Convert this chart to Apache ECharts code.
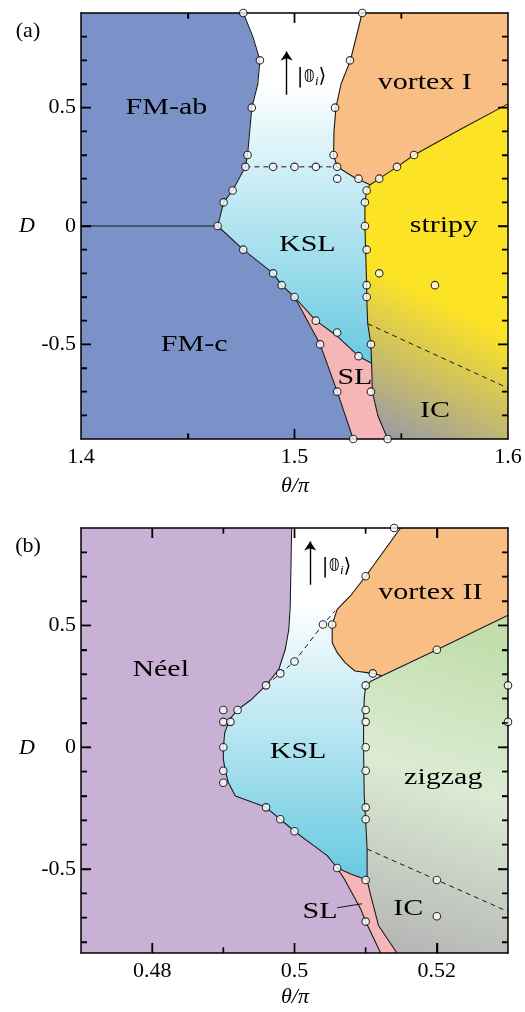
<!DOCTYPE html>
<html>
<head>
<meta charset="utf-8">
<script src="https://cdn.jsdelivr.net/npm/echarts@6/dist/echarts.min.js"></script>
<style>
html, body { margin: 0; padding: 0; background: #fff; }
#chart { width: 525px; height: 1012px; }
</style>
</head>
<body>
<div id="chart"></div>
<script>
// ---------- panel (a): boundaries, [theta/pi, D] ----------
var aFmEdge = [[1.476,0.9],[1.4805,0.8],[1.4838,0.7],[1.4828,0.6],[1.480,0.5],[1.479,0.4],[1.478,0.3],[1.477,0.25],[1.471,0.15],[1.4668,0.1],[1.464,0]];
var aFmSplit = [[1.4,0],[1.464,0]];
var aFmcKsl = [[1.464,0],[1.476,-0.1],[1.49,-0.2],[1.494,-0.25],[1.5,-0.3]];
var aFmcSl = [[1.5,-0.3],[1.512,-0.5],[1.52,-0.7],[1.5275,-0.9]];
var aKslSl = [[1.5,-0.3],[1.51,-0.4],[1.52,-0.465],[1.53,-0.55],[1.5361,-0.58]];
var aKslStripy = [[1.5354,0.174],[1.5338,0.15],[1.533,0.1],[1.533,0],[1.5333,-0.1],[1.5338,-0.25],[1.5338,-0.3],[1.5343,-0.413],[1.5358,-0.5],[1.5361,-0.58]];
var aSlIc = [[1.5361,-0.58],[1.5365,-0.7],[1.539,-0.8],[1.5436,-0.9]];
var aVortexEdge = [[1.5317,0.9],[1.5262,0.7],[1.5218,0.6],[1.5194,0.5],[1.5185,0.4],[1.5183,0.3],[1.52,0.25],[1.528,0.205],[1.5354,0.174]];
var aVortexStripy = [[1.5354,0.174],[1.5397,0.2],[1.548,0.25],[1.556,0.3],[1.578,0.41],[1.6,0.516]];
var aDashKsl = [[1.477,0.25],[1.52,0.25]];
var aDashIc = [[1.5343,-0.413],[1.6,-0.685]];

var aPoints = [[1.476,0.9],[1.5317,0.9],[1.4838,0.7],[1.526,0.7],[1.48,0.5],[1.519,0.5],[1.478,0.3],[1.5183,0.3],
  [1.477,0.25],[1.49,0.25],[1.5,0.25],[1.51,0.25],[1.52,0.25],
  [1.52,0.2],[1.53,0.2],[1.5397,0.2],[1.548,0.25],[1.556,0.3],
  [1.471,0.15],[1.4668,0.1],[1.464,0],
  [1.5338,0.15],[1.533,0.1],[1.533,0],[1.5338,-0.1],[1.5397,-0.2],[1.5338,-0.25],[1.5338,-0.3],[1.5658,-0.25],
  [1.476,-0.1],[1.49,-0.2],[1.494,-0.25],[1.5,-0.3],[1.51,-0.4],[1.52,-0.45],[1.512,-0.5],[1.53,-0.55],
  [1.5358,-0.5],[1.52,-0.7],[1.5358,-0.7],[1.5275,-0.9],[1.5436,-0.9]];

var aLabels = [
  {name: 'FM-ab', value: [1.44, 0.5]},
  {name: 'FM-c', value: [1.453, -0.5]},
  {name: 'vortex I', value: [1.561, 0.606]},
  {name: 'stripy', value: [1.57, 0]},
  {name: 'KSL', value: [1.506, -0.08]},
  {name: 'SL', value: [1.5283, -0.64]},
  {name: 'IC', value: [1.5658, -0.78]}
];
var aArrow = [[1.4963,0.555],[1.4963,0.737]];
var aKet = [1.508, 0.63];

var aXMajor = [1.5];
var aXMinor = [1.45, 1.55];
var aYMajor = [-0.5, 0, 0.5];
var aYMinor = [-0.8, -0.7, -0.6, -0.4, -0.3, -0.2, -0.1, 0.1, 0.2, 0.3, 0.4, 0.6, 0.7, 0.8];

// ---------- panel (b) ----------
var bNeelEdge = [[0.4996,0.9],[0.4994,0.579],[0.4992,0.484],[0.4987,0.402],[0.4978,0.32],[0.496,0.254],[0.494,0.197],[0.4921,0.156],[0.4909,0.115],[0.4902,0.06],[0.49,0],[0.49,-0.05],[0.4903,-0.1],[0.4907,-0.145],[0.4917,-0.2],[0.496,-0.247],[0.498,-0.296],[0.5,-0.345],[0.5027,-0.404],[0.5046,-0.445],[0.506,-0.496]];
var bNeelSl = [[0.506,-0.496],[0.507,-0.541],[0.5093,-0.664],[0.51,-0.716],[0.5121,-0.845]];
var bKslSl = [[0.506,-0.496],[0.508,-0.522],[0.5102,-0.545]];
var bSlIc = [[0.5102,-0.545],[0.5106,-0.596],[0.5118,-0.732],[0.5144,-0.845]];
var bKslZig = [[0.5123,0.293],[0.5108,0.272],[0.51,0.25],[0.5098,0.2],[0.5097,0.1],[0.5097,0],[0.5098,-0.2],[0.51,-0.3],[0.5102,-0.418],[0.5102,-0.545]];
var bVortexEdge = [[0.5149,0.9],[0.51,0.702],[0.5079,0.623],[0.506,0.566],[0.5053,0.504],[0.5053,0.429],[0.506,0.388],[0.5071,0.347],[0.5085,0.313],[0.511,0.303],[0.5123,0.293]];
var bVortexZig = [[0.5123,0.293],[0.52,0.4],[0.53,0.542]];
var bDashKsl = [[0.496,0.254],[0.498,0.303],[0.5,0.352],[0.504,0.504],[0.5057,0.56]];
var bDashIc = [[0.5102,-0.418],[0.53,-0.675]];

var bPoints = [[0.514,0.9],[0.51,0.702],[0.504,0.504],[0.5053,0.504],[0.511,0.303],[0.52,0.4],[0.5,0.352],[0.498,0.303],[0.496,0.254],
  [0.49,0.153],[0.492,0.153],[0.49,0.104],[0.491,0.104],[0.49,0],[0.49,-0.097],[0.49,-0.146],[0.496,-0.247],[0.498,-0.296],[0.5,-0.345],
  [0.506,-0.496],[0.51,-0.545],[0.51,-0.716],
  [0.51,0.254],[0.51,0.153],[0.51,0.104],[0.51,0],[0.51,-0.097],[0.51,-0.247],[0.51,-0.296],
  [0.53,0.254],[0.53,0.104],[0.52,-0.545],[0.52,-0.694]];

var bLabels = [
  {name: 'Néel', value: [0.4812, 0.318]},
  {name: 'vortex II', value: [0.5191, 0.636]},
  {name: 'KSL', value: [0.5005, -0.018]},
  {name: 'zigzag', value: [0.5209, -0.125]},
  {name: 'IC', value: [0.516, -0.663]},
  {name: 'SL', value: [0.5036, -0.676]}
];
var bSlPointer = [[0.506,-0.659],[0.5095,-0.643]];
var bArrow = [[0.5022,0.667],[0.5022,0.845]];
var bKet = [0.5059, 0.742];

var bXMajor = [0.48, 0.5, 0.52];
var bXMinor = [0.49, 0.51];
var bYMajor = [-0.5, 0, 0.5];
var bYMinor = [-0.8, -0.7, -0.6, -0.4, -0.3, -0.2, -0.1, 0.1, 0.2, 0.3, 0.4, 0.6, 0.7, 0.8];

// ---------- helpers ----------
var fam = '"Liberation Serif", "DejaVu Serif", serif';
function rev(a) { return a.slice().reverse(); }
// glue boundary pieces into one outline, dropping repeated joints
function join() {
  var out = [];
  for (var i = 0; i < arguments.length; i++) {
    arguments[i].forEach(function (pt) {
      var last = out[out.length - 1];
      if (!last || last[0] !== pt[0] || last[1] !== pt[1]) out.push(pt);
    });
  }
  return out;
}
function fmtEvery(step) {
  return function (v) {
    var k = v / step;
    if (Math.abs(k - Math.round(k)) > 1e-6) return '';
    return String(+v.toFixed(3));
  };
}
function mkAxis(g, pos, range, step, labelStep) {
  return {
    type: 'value', gridIndex: g, position: pos, min: range[0], max: range[1], zlevel: 1, z: 1,
    minInterval: step, maxInterval: step, splitNumber: Math.round((range[1] - range[0]) / step),
    axisLine: {show: true, onZero: false, lineStyle: {color: '#000', width: 1.5}},
    axisTick: {show: false},
    axisLabel: {show: !!labelStep, formatter: labelStep ? fmtEvery(labelStep) : '', color: '#000',
      fontFamily: fam, fontSize: 22, margin: pos === 'left' ? 5 : 7},
    splitLine: {show: false}
  };
}

var panels = [
  {g: 0, box: [81, 13, 427, 426], xr: [1.4, 1.6], yr: [-0.9, 0.9], xMajor: 0.1, xt: [aXMajor, aXMinor], yt: [aYMajor, aYMinor]},
  {g: 1, box: [81, 528, 427, 425], xr: [0.47, 0.53], yr: [-0.845, 0.9], xMajor: 0.02, xt: [bXMajor, bXMinor], yt: [bYMajor, bYMinor]}
];
var xAxes = [], yAxes = [];
panels.forEach(function (p) {
  p.x = xAxes.length; p.y = yAxes.length;
  xAxes.push(mkAxis(p.g, 'bottom', p.xr, p.xMajor, p.xMajor));
  xAxes.push(mkAxis(p.g, 'top', p.xr, p.xMajor, 0));
  yAxes.push(mkAxis(p.g, 'left', p.yr, 0.5, 0.5));
  yAxes.push(mkAxis(p.g, 'right', p.yr, 0.5, 0));
});

// tick segments in data units: [start, end] pairs, inward from each side
function tickSegments(p) {
  var dx = (p.xr[1] - p.xr[0]) / p.box[2], dy = (p.yr[1] - p.yr[0]) / p.box[3];
  var segs = [];
  [[p.xt[0], 10], [p.xt[1], 5.5]].forEach(function (set) {
    set[0].forEach(function (v) {
      segs.push([[v, p.yr[0]], [v, p.yr[0] + set[1] * dy]]);
      segs.push([[v, p.yr[1]], [v, p.yr[1] - set[1] * dy]]);
    });
  });
  [[p.yt[0], 10], [p.yt[1], 6]].forEach(function (set) {
    set[0].forEach(function (v) {
      segs.push([[p.xr[0], v], [p.xr[0] + set[1] * dx, v]]);
      segs.push([[p.xr[1], v], [p.xr[1] - set[1] * dx, v]]);
    });
  });
  return segs;
}

function polySeries(p, pts, fill) {
  return {
    type: 'custom', xAxisIndex: p.x, yAxisIndex: p.y, silent: true, z: 1, clip: true,
    data: [[(p.xr[0] + p.xr[1]) / 2, 0]],
    renderItem: function (params, api) {
      var poly = pts.map(function (d) { return api.coord(d); });
      var color = fill;
      if (typeof fill === 'object') {
        var a = api.coord(fill.from), b = api.coord(fill.to);
        color = new echarts.graphic.LinearGradient(a[0], a[1], b[0], b[1], fill.stops, true);
      }
      return {type: 'polygon', shape: {points: poly}, style: {fill: color, stroke: color, lineWidth: 0.5}};
    }
  };
}
function tickSeries(p) {
  return {
    type: 'lines', coordinateSystem: 'cartesian2d', xAxisIndex: p.x, yAxisIndex: p.y, silent: true, z: 6,
    symbol: ['none', 'none'], symbolSize: [0, 0],
    lineStyle: {color: '#000', width: 1.4, opacity: 1},
    data: tickSegments(p).map(function (s) { return {coords: s}; })
  };
}
function lineSeries(p, pts, dashed) {
  return {
    type: 'line', xAxisIndex: p.x, yAxisIndex: p.y, data: pts, symbol: 'none', showSymbol: false,
    silent: true, z: 3, clip: false,
    lineStyle: {color: '#1a1a1a', width: dashed ? 1 : 1.1, type: dashed ? [5, 4] : 'solid'}
  };
}
function pointSeries(p, pts) {
  return {
    type: 'scatter', xAxisIndex: p.x, yAxisIndex: p.y, data: pts, symbol: 'circle', symbolSize: 7.5,
    silent: true, zlevel: 1, z: 5, clip: false,
    itemStyle: {color: '#fff', borderColor: '#000', borderWidth: 1.1}
  };
}
function labelSeries(p, labels) {
  return {
    type: 'custom', xAxisIndex: p.x, yAxisIndex: p.y, silent: true, z: 6, clip: false,
    data: labels,
    renderItem: function (params, api) {
      var c = api.coord([api.value(0), api.value(1)]);
      return {
        type: 'text', x: c[0], y: c[1], scaleX: 1.25,
        style: {text: labels[params.dataIndex].name, fill: '#000', fontFamily: fam, fontSize: 24,
          align: 'center', verticalAlign: 'middle'}
      };
    }
  };
}
function ketSeries(p, pos) {
  return {
    type: 'custom', xAxisIndex: p.x, yAxisIndex: p.y, silent: true, z: 6, clip: false,
    data: [pos],
    renderItem: function (params, api) {
      var c = api.coord([api.value(0), api.value(1)]);
      return {
        type: 'text', x: c[0], y: c[1],
        style: {text: '|{z|𝟘}{s|i}⟩', fill: '#000', fontFamily: '"DejaVu Serif","DejaVu Sans"', fontSize: 20,
          align: 'center', verticalAlign: 'middle',
          rich: {z: {fontFamily: '"DejaVu Sans","DejaVu Serif"', fontSize: 18},
                 s: {fontFamily: fam, fontStyle: 'italic', fontSize: 13, padding: [9, 0, 0, 0]}}}
      };
    }
  };
}
function arrowSeries(p, pts) {
  return {
    type: 'lines', coordinateSystem: 'cartesian2d', xAxisIndex: p.x, yAxisIndex: p.y, silent: true, z: 6,
    symbol: ['none', 'arrow'], symbolSize: [0, 9],
    lineStyle: {color: '#000', width: 1.4, opacity: 1},
    data: [{coords: pts}]
  };
}

var kslFillA = {from: [1.5, 0.6], to: [1.5, -0.55], stops: [{offset: 0, color: '#ffffff'}, {offset: 1, color: '#6ccbe2'}]};
var stripyFill = {from: [1.545, -0.88], to: [1.575, -0.35], stops: [{offset: 0, color: '#9d9d9f'}, {offset: 1, color: '#fde325'}]};
var kslFillB = {from: [0.5, 0.6], to: [0.5, -0.5], stops: [{offset: 0, color: '#ffffff'}, {offset: 1, color: '#6ccbe2'}]};
var zigFill = {from: [0.513, -0.845], to: [0.527, 0.45], stops: [{offset: 0, color: '#b4b4b4'}, {offset: 0.55, color: '#dcebd3'}, {offset: 1, color: '#c1deab'}]};

var pa = panels[0], pb = panels[1];
var series = [
  // (a) regions
  polySeries(pa, join([[1.4, 0.9]], aFmEdge, aFmcKsl, aFmcSl, [[1.4, -0.9]]), '#7b92c9'),
  polySeries(pa, join(aFmEdge, aFmcKsl, aKslSl, rev(aKslStripy), rev(aVortexEdge)), kslFillA),
  polySeries(pa, join(aVortexEdge, aVortexStripy, [[1.6, 0.9]]), '#f9be84'),
  polySeries(pa, join(aKslStripy, aSlIc, [[1.6, -0.9]], rev(aVortexStripy)), stripyFill),
  polySeries(pa, join(aKslSl, aSlIc, rev(aFmcSl)), '#f6b6b8'),
  // (a) boundaries
  lineSeries(pa, aFmEdge), lineSeries(pa, aFmSplit), lineSeries(pa, aFmcKsl), lineSeries(pa, aFmcSl),
  lineSeries(pa, aKslSl), lineSeries(pa, aKslStripy), lineSeries(pa, aSlIc),
  lineSeries(pa, aVortexEdge), lineSeries(pa, aVortexStripy),
  lineSeries(pa, aDashKsl, true), lineSeries(pa, aDashIc, true),
  arrowSeries(pa, aArrow), tickSeries(pa), pointSeries(pa, aPoints), labelSeries(pa, aLabels), ketSeries(pa, aKet),
  // (b) regions
  polySeries(pb, join([[0.47, 0.9]], bNeelEdge, bNeelSl, [[0.47, -0.845]]), '#c9b1d6'),
  polySeries(pb, join(bNeelEdge, bKslSl, rev(bKslZig), rev(bVortexEdge)), kslFillB),
  polySeries(pb, join(bVortexEdge, bVortexZig, [[0.53, 0.9]]), '#f9be84'),
  polySeries(pb, join(bKslZig, bSlIc, [[0.53, -0.845]], rev(bVortexZig)), zigFill),
  polySeries(pb, join(bKslSl, bSlIc, rev(bNeelSl)), '#f6b6b8'),
  // (b) boundaries
  lineSeries(pb, bNeelEdge), lineSeries(pb, bNeelSl), lineSeries(pb, bKslSl), lineSeries(pb, bSlIc),
  lineSeries(pb, bKslZig), lineSeries(pb, bVortexEdge), lineSeries(pb, bVortexZig),
  lineSeries(pb, bDashKsl, true), lineSeries(pb, bDashIc, true), lineSeries(pb, bSlPointer),
  arrowSeries(pb, bArrow), tickSeries(pb), pointSeries(pb, bPoints), labelSeries(pb, bLabels), ketSeries(pb, bKet)
];

var texts = [
  {type: 'text', x: 28, y: 31, style: {text: '(a)', font: '22px ' + fam, fill: '#000', align: 'center', verticalAlign: 'middle'}},
  {type: 'text', x: 28, y: 546, style: {text: '(b)', font: '22px ' + fam, fill: '#000', align: 'center', verticalAlign: 'middle'}},
  {type: 'text', x: 27, y: 226, style: {text: 'D', font: 'italic 22px ' + fam, fill: '#000', align: 'center', verticalAlign: 'middle'}},
  {type: 'text', x: 27, y: 748, style: {text: 'D', font: 'italic 22px ' + fam, fill: '#000', align: 'center', verticalAlign: 'middle'}},
  {type: 'text', x: 295, y: 486, style: {text: 'θ/π', font: 'italic 22px ' + fam, fill: '#000', align: 'center', verticalAlign: 'middle'}},
  {type: 'text', x: 295, y: 997, style: {text: 'θ/π', font: 'italic 22px ' + fam, fill: '#000', align: 'center', verticalAlign: 'middle'}}
];

var chart = echarts.init(document.getElementById('chart'));
var option = {
  animation: false,
  backgroundColor: '#fff',
  grid: panels.map(function (p) {
    return {left: p.box[0], top: p.box[1], width: p.box[2], height: p.box[3]};
  }),
  xAxis: xAxes,
  yAxis: yAxes,
  graphic: texts,
  series: series
};
chart.setOption(option);

// frame ticks once more on the top layer, placed through the axes
var tickLines = [];
panels.forEach(function (p) {
  tickSegments(p).forEach(function (s) {
    var a = chart.convertToPixel({xAxisIndex: p.x, yAxisIndex: p.y}, s[0]);
    var b = chart.convertToPixel({xAxisIndex: p.x, yAxisIndex: p.y}, s[1]);
    tickLines.push({type: 'line', silent: true, zlevel: 2, z: 100,
      shape: {x1: a[0], y1: a[1], x2: b[0], y2: b[1]}, style: {stroke: '#000', lineWidth: 1.4}});
  });
});
chart.setOption({graphic: texts.concat(tickLines)});
</script>
</body>
</html>
